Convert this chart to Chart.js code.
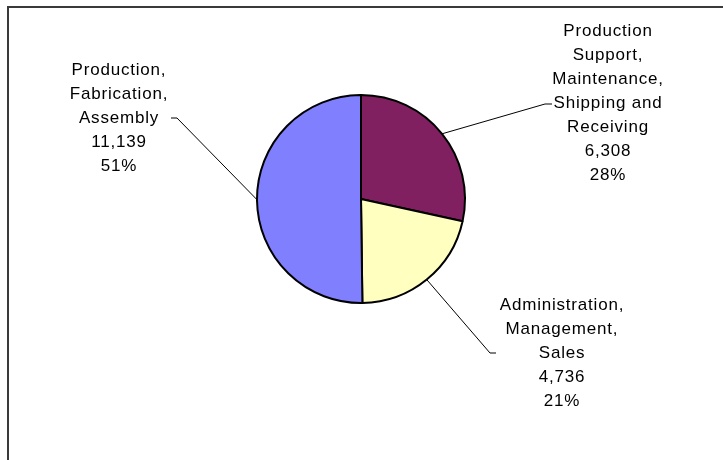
<!DOCTYPE html>
<html>
<head>
<meta charset="utf-8">
<script src="https://cdn.jsdelivr.net/npm/chart.js@4"></script>
<style>
  html, body { margin: 0; padding: 0; background: #fff; }
  .wrap { position: relative; width: 723px; height: 460px; overflow: hidden; }
  .frame {
    position: absolute; left: 7px; top: 6px; width: 800px; height: 600px;
    border-left: 2px solid #3a3a3a; border-top: 2px solid #3a3a3a;
  }
  #workforcePie { position: absolute; left: 0; top: 0; }
</style>
</head>
<body>
<div class="wrap">
  <div class="frame"></div>
  <canvas id="workforcePie" width="723" height="460"></canvas>
</div>
<script>
// slice names, one line per array entry
const categories = [
  ["Production", "Support,", "Maintenance,", "Shipping and", "Receiving"],
  ["Administration,", "Management,", "Sales"],
  ["Production,", "Fabrication,", "Assembly"],
];
const employees = [6308, 4736, 11139];
const percentLabels = ["28%", "21%", "51%"];
const sliceColors = ["#802060", "#FFFFC0", "#8080FF"];

// where each label block sits and where its leader line bends
const labelSpots = [
  { textX: 608, firstLineY: 31, elbow: [545, 104], tick: 7 },
  { textX: 562, firstLineY: 305, elbow: [490, 353], tick: 6 },
  { textX: 119, firstLineY: 70, elbow: [177, 118], tick: -6 },
];

const LINE_H = 24;

const pieLabels = {
  id: "pieLabels",
  afterDatasetsDraw(chart) {
    const ctx = chart.ctx;
    const arcs = chart.getDatasetMeta(0).data;
    ctx.save();
    arcs.forEach((arc, i) => {
      const { x, y, startAngle, endAngle, outerRadius } = arc.getProps(
        ["x", "y", "startAngle", "endAngle", "outerRadius"], true);
      const mid = (startAngle + endAngle) / 2;
      const ex = x + Math.cos(mid) * outerRadius;
      const ey = y + Math.sin(mid) * outerRadius;
      const spot = labelSpots[i];

      ctx.strokeStyle = "#000";
      ctx.lineWidth = 1;
      ctx.beginPath();
      ctx.moveTo(ex, ey);
      ctx.lineTo(spot.elbow[0], spot.elbow[1]);
      ctx.lineTo(spot.elbow[0] + spot.tick, spot.elbow[1]);
      ctx.stroke();

      const lines = [...categories[i], employees[i].toLocaleString("en-US"), percentLabels[i]];
      ctx.fillStyle = "#000";
      ctx.font = "17px 'Liberation Sans', Arial, sans-serif";
      ctx.letterSpacing = "0.8px";
      ctx.textAlign = "center";
      ctx.textBaseline = "middle";
      lines.forEach((t, k) => {
        ctx.fillText(t, spot.textX, spot.firstLineY + k * LINE_H);
      });
    });
    ctx.restore();
  },
};

new Chart(document.getElementById("workforcePie").getContext("2d"), {
  type: "pie",
  data: {
    labels: categories.map((c) => c.join(" ")),
    datasets: [
      {
        data: employees,
        backgroundColor: sliceColors,
        borderColor: "#000",
        borderWidth: 2,
      },
    ],
  },
  options: {
    responsive: false,
    animation: false,
    radius: 104,
    layout: { padding: { top: 0, bottom: 62, left: 0, right: 1 } },
    plugins: {
      legend: { display: false },
      tooltip: { enabled: false },
    },
  },
  plugins: [pieLabels],
});
</script>
</body>
</html>
